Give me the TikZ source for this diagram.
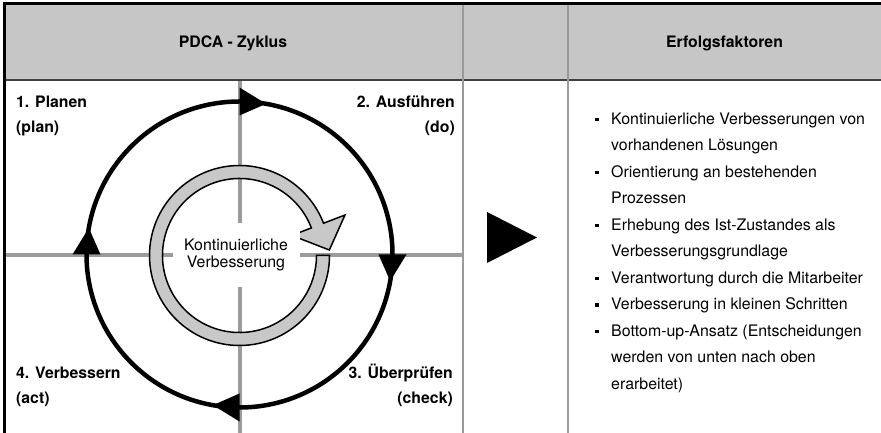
\documentclass[tikz,border=0pt]{standalone}
\usepackage{fontspec}
\setmainfont{TeX Gyre Heros}
\definecolor{headgray}{HTML}{C6C6C6}
\definecolor{crossgray}{HTML}{9B9B9B}
\definecolor{gridgray}{HTML}{9A9A9A}
\definecolor{ringgray}{HTML}{C8C8C8}
\begin{document}
\begin{tikzpicture}[x=1pt,y=1pt,
  lbl/.style={inner sep=0pt, font=\fontsize{15.8}{17}\selectfont\bfseries},
  txt/.style={inner sep=0pt, font=\fontsize{15.9}{17}\selectfont},
  gridline/.style={draw=gridgray, line width=1.6pt},
  crossline/.style={draw=crossgray, line width=4.5pt},
  bulletbox/.style={fill=black, minimum size=3.8pt, inner sep=0pt}]
\useasboundingbox (0,0) rectangle (881,433);

% table header and frame
\fill[headgray] (5,353) rectangle (881,428.5);
\draw[black!75, line width=1.2pt] (4,353) -- (881,353);
\draw[gridline] (463,0) -- (463,429);
\draw[gridline] (568,0) -- (568,429);
\draw[line width=2.5pt] (3.25,429.5) -- (881,429.5);
\draw[line width=2.5pt] (4.5,0) -- (4.5,430.75);

\node[lbl] (h1) at (233,390) {PDCA - Zyklus};
\node[lbl] (h2) at (724.5,390) {Erfolgsfaktoren};

% quadrant cross
\draw[crossline] (5.75,178) -- (463,178);
\draw[crossline] (240,0) -- (240,352.4);

% outer PDCA cycle with four arrowheads
\begin{scope}[shift={(239.5,178.5)}]
  \draw[line width=4.5pt] (0,0) circle[radius=153];
  \foreach \a in {90,0,-90,180}
    \fill (\a:139) -- (\a:167) -- (\a-10:153) -- cycle;
\end{scope}

% inner improvement ring arrow
\begin{scope}[shift={(239.5,177.5)}]
  \filldraw[fill=ringgray, draw=black, line width=1.5pt, line join=miter]
    (0:90) arc[start angle=0, end angle=-339, radius=90]
    -- (21:113) -- (3.5:90) -- (21:56) -- (21:77)
    arc[start angle=21, end angle=360, radius=77] -- cycle;
\end{scope}

\node[txt, fill=white, minimum width=127pt, minimum height=64pt, align=center]
  (kv) at (236,178) {Kontinuierliche\\Verbesserung};

% quadrant labels
\node[lbl, anchor=base west] (p1) at (16,325) {1. Planen};
\node[lbl, anchor=base west] (p2) at (16,300) {(plan)};
\node[lbl, anchor=base east] (d1) at (455,325) {2. Ausführen};
\node[lbl, anchor=base east] (d2) at (455,300) {(do)};
\node[lbl, anchor=base west] (a1) at (16,54) {4. Verbessern};
\node[lbl, anchor=base west] (a2) at (16,29.5) {(act)};
\node[lbl, anchor=base east] (c1) at (453,54) {3. Überprüfen};
\node[lbl, anchor=base east] (c2) at (453,29.5) {(check)};

% transition arrow
\fill (487,221) -- (487,170) -- (537,195.5) -- cycle;

% success factors
\foreach \t [count=\i from 0] in {
  Kontinuierliche Verbesserungen von,
  vorhandenen Lösungen,
  Orientierung an bestehenden,
  Prozessen,
  Erhebung des Ist-Zustandes als,
  Verbesserungsgrundlage,
  Verantwortung durch die Mitarbeiter,
  Verbesserung in kleinen Schritten,
  Bottom-up-Ansatz (Entscheidungen,
  werden von unten nach oben,
  erarbeitet)}
  \node[txt, anchor=base west] (f\i) at (611,{308.5-26.5*\i}) {\t};

\foreach \i in {0,2,4,6,7,8}
  \node[bulletbox] (b\i) at (597,{313.5-26.5*\i}) {};
\end{tikzpicture}
\end{document}
